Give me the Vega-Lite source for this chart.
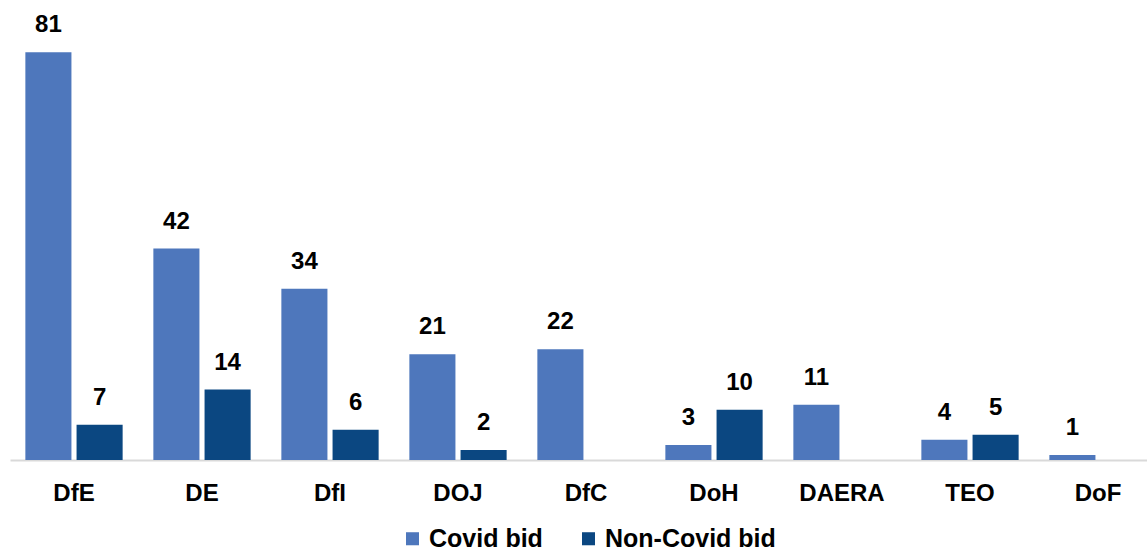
{
  "$schema": "https://vega.github.io/schema/vega-lite/v6.json",
  "width": 1152,
  "height": 453,
  "padding": {"left": 10, "top": 7, "right": 0, "bottom": 0},
  "background": "white",
  "config": {
    "view": {"stroke": null},
    "font": "Liberation Sans"
  },
  "data": {
    "values": [
      {"dept": "DfE", "type": "Covid bid", "count": 81},
      {"dept": "DfE", "type": "Non-Covid bid", "count": 7},
      {"dept": "DE", "type": "Covid bid", "count": 42},
      {"dept": "DE", "type": "Non-Covid bid", "count": 14},
      {"dept": "DfI", "type": "Covid bid", "count": 34},
      {"dept": "DfI", "type": "Non-Covid bid", "count": 6},
      {"dept": "DOJ", "type": "Covid bid", "count": 21},
      {"dept": "DOJ", "type": "Non-Covid bid", "count": 2},
      {"dept": "DfC", "type": "Covid bid", "count": 22},
      {"dept": "DoH", "type": "Covid bid", "count": 3},
      {"dept": "DoH", "type": "Non-Covid bid", "count": 10},
      {"dept": "DAERA", "type": "Covid bid", "count": 11},
      {"dept": "TEO", "type": "Covid bid", "count": 4},
      {"dept": "TEO", "type": "Non-Covid bid", "count": 5},
      {"dept": "DoF", "type": "Covid bid", "count": 1}
    ]
  },
  "encoding": {
    "x": {
      "field": "dept",
      "type": "nominal",
      "sort": null,
      "scale": {"paddingInner": 0.24, "paddingOuter": 0.12},
      "axis": {
        "title": null,
        "labelAngle": 0,
        "labelFontSize": 24,
        "labelFontWeight": "bold",
        "labelColor": "#000000",
        "labelPadding": 21,
        "ticks": false,
        "domainColor": "#D9D9D9",
        "domainWidth": 2,
        "grid": false
      }
    },
    "xOffset": {
      "field": "type",
      "type": "nominal",
      "scale": {"domain": ["Covid bid", "Non-Covid bid"], "paddingInner": 0.1}
    },
    "y": {
      "field": "count",
      "type": "quantitative",
      "scale": {"domain": [0, 90], "nice": false},
      "axis": null
    }
  },
  "layer": [
    {
      "mark": {"type": "bar"},
      "encoding": {
        "color": {
          "field": "type",
          "type": "nominal",
          "scale": {"domain": ["Covid bid", "Non-Covid bid"], "range": ["#4E77BC", "#0B4781"]},
          "legend": {
            "title": null,
            "orient": "none",
            "direction": "horizontal",
            "legendX": 390,
            "legendY": 519,
            "symbolType": "square",
            "symbolSize": 170,
            "symbolStrokeWidth": 0,
            "labelFontSize": 25,
            "labelFontWeight": "bold",
            "labelColor": "#000000",
            "labelLimit": 400,
            "labelOffset": 4,
            "columnPadding": 33
          }
        }
      }
    },
    {
      "mark": {"type": "text", "baseline": "bottom", "dy": -15, "fontSize": 24, "fontWeight": "bold", "color": "#000000"},
      "encoding": {
        "text": {"field": "count", "type": "quantitative"}
      }
    }
  ]
}
